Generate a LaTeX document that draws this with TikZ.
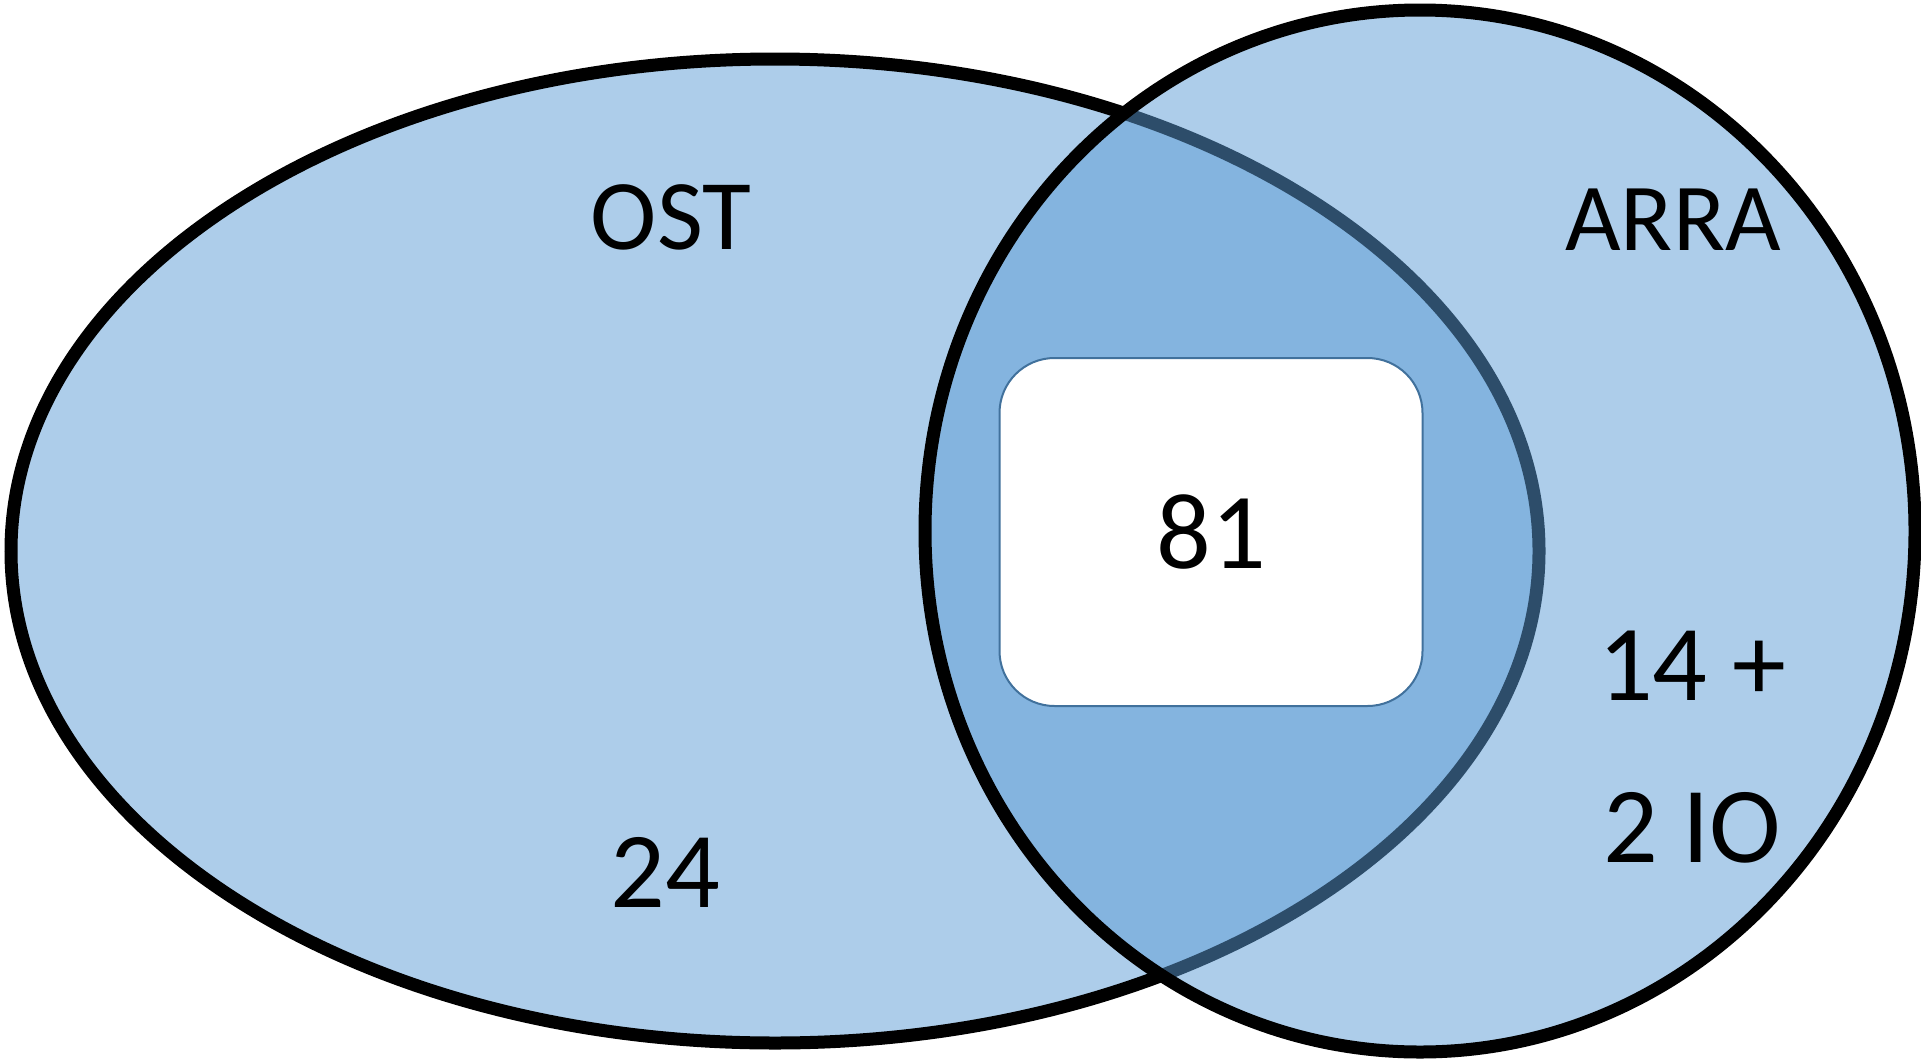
\documentclass[tikz,border=0pt]{standalone}
\usepackage{fontspec}
\setmainfont{Carlito}
\definecolor{vennblue}{RGB}{91,155,213}
\definecolor{boxline}{RGB}{65,113,156}
\tikzset{
   SetStyle/.style   = {draw=black, line width=13, fill=vennblue, fill opacity=0.5},
   BoxStyle/.style   = {draw=boxline, line width=2, fill=white, rounded corners=55,
                        minimum width=423, minimum height=348},
   CountStyle/.style = {font=\fontsize{108}{162}\selectfont, align=center, text=black},
   NameStyle/.style  = {font=\fontsize{100}{120}\selectfont, text=black}
}
\begin{document}
\begin{tikzpicture}[x=1pt,y=-1pt]
   \useasboundingbox (0,0) rectangle (1921,1060);
   \draw[SetStyle] (775,551) ellipse [x radius=764, y radius=492];
   \draw[SetStyle] (1420,531) ellipse [x radius=495, y radius=521];
   \node[NameStyle] (OST)  at (671,217)  {OST};
   \node[NameStyle,font=\fontsize{96}{120}\selectfont] (ARRA) at (1673,220) {ARRA};
   \node[CountStyle] (OSTonly)  at (665,872)  {24};
   \node[CountStyle] (ARRAonly) at (1692,747) {14 +\\2 IO};
   \node[BoxStyle,CountStyle] (both) at (1211,532) {81};
\end{tikzpicture}
\end{document}
